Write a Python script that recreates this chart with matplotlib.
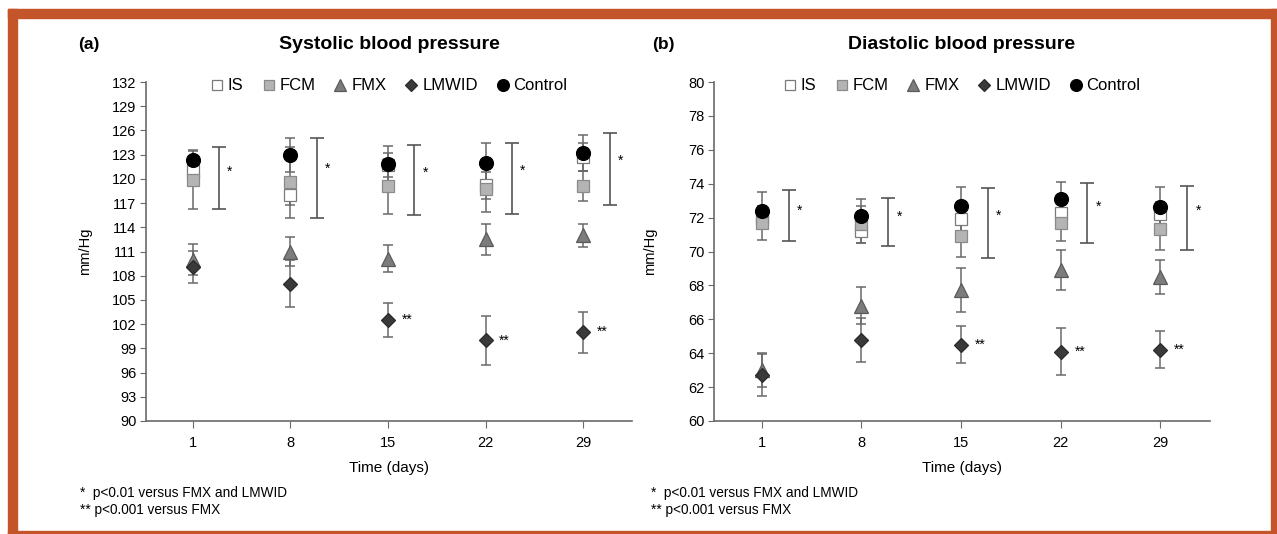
import matplotlib.pyplot as plt
from matplotlib.patches import Rectangle

days = ["1", "8", "15", "22", "29"]

# systolic blood pressure (mean and error)
sys_is = [121.0, 118.0, 121.7, 119.2, 122.7]
sys_is_err = [1.7, 1.2, 1.5, 1.7, 1.7]
sys_fcm = [119.9, 119.6, 119.1, 118.7, 119.1]
sys_fcm_err = [3.6, 4.4, 3.4, 2.8, 1.9]
sys_fmx = [110.0, 111.0, 110.1, 112.5, 113.0]
sys_fmx_err = [1.9, 1.8, 1.7, 1.95, 1.4]
sys_lmwid = [109.1, 107.0, 102.5, 100.0, 101.0]
sys_lmwid_err = [2.0, 2.9, 2.15, 3.05, 2.55]
sys_control = [122.3, 123.0, 121.9, 122.0, 123.2]
sys_control_err = [1.3, 2.1, 2.2, 2.4, 2.2]
sys_bracket_lo = [116.3, 115.2, 115.5, 115.7, 116.8]
sys_bracket_hi = [123.9, 125.1, 124.2, 124.4, 125.7]

# diastolic blood pressure (mean and error)
dia_is = [72.0, 71.2, 71.9, 72.3, 72.2]
dia_is_err = [0.7, 0.7, 0.7, 0.7, 0.7]
dia_fcm = [71.7, 71.6, 70.9, 71.7, 71.3]
dia_fcm_err = [1.0, 1.1, 1.2, 1.1, 1.2]
dia_fmx = [63.0, 66.8, 67.75, 68.9, 68.5]
dia_fmx_err = [1.0, 1.1, 1.3, 1.2, 1.0]
dia_lmwid = [62.7, 64.8, 64.5, 64.1, 64.2]
dia_lmwid_err = [1.25, 1.3, 1.1, 1.4, 1.1]
dia_control = [72.4, 72.1, 72.7, 73.1, 72.6]
dia_control_err = [1.1, 1.0, 1.1, 1.0, 1.2]
dia_bracket_lo = [70.6, 70.3, 69.6, 70.5, 70.1]
dia_bracket_hi = [73.6, 73.15, 73.75, 74.05, 73.85]

FONT = "Liberation Sans"
GRAY = "#6a6a6a"
W, H = 1277, 534

STYLES = {
    "IS": dict(marker="s", ms=8.5, mfc="white", mec="#7a7a7a"),
    "FCM": dict(marker="s", ms=8.5, mfc="#b4b4b4", mec="#8a8a8a"),
    "FMX": dict(marker="^", ms=9.5, mfc="#7c7c7c", mec="#5a5a5a"),
    "LMWID": dict(marker="D", ms=7, mfc="#3a3a3a", mec="#2a2a2a"),
    "Control": dict(marker="o", ms=10, mfc="black", mec="black"),
}


def draw_panel(ax, data, brackets, ylim, yticks, title, ylabel_x):
    x = list(range(len(days)))
    for name, (values, errors) in data.items():
        ax.errorbar(x, values, yerr=errors, fmt="none", ecolor=GRAY,
                    elinewidth=1.1, capsize=3.5, capthick=1.1, zorder=2)
    for name, (values, errors) in data.items():
        ax.plot(x, values, ls="none", mew=0.9, label=name, zorder=3,
                **STYLES[name])

    lo, hi = brackets
    bx = [xi + 0.27 for xi in x]
    mid = [(a + b) / 2 for a, b in zip(lo, hi)]
    half = [(b - a) / 2 for a, b in zip(lo, hi)]
    ax.errorbar(bx, mid, yerr=half, fmt="none", ecolor="#555555",
                elinewidth=1.2, capsize=5, capthick=1.2)
    for xb, m, h in zip(bx, mid, half):
        ax.text(xb + 0.11, m + 0.22 * h, "*", fontsize=10, family=FONT,
                ha="center", va="center")

    lmwid = data["LMWID"][0]
    for xi in x[2:]:
        ax.text(xi + 0.14, lmwid[xi], "**", fontsize=10, family=FONT,
                ha="left", va="center")

    ax.set_xlim(-0.48, 4.5)
    ax.set_ylim(*ylim)
    ax.set_yticks(yticks)
    ax.set_xticks(x)
    ax.set_xticklabels(days)
    for s in ("top", "right"):
        ax.spines[s].set_visible(False)
    for s in ("left", "bottom"):
        ax.spines[s].set_color(GRAY)
        ax.spines[s].set_linewidth(1.2)
    ax.tick_params(axis="y", length=4, color=GRAY, labelsize=10.5,
                   pad=3)
    ax.tick_params(axis="x", length=5, color=GRAY, labelsize=10.5,
                   pad=6)
    for lab in ax.get_xticklabels() + ax.get_yticklabels():
        lab.set_family(FONT)
    ax.set_ylabel("mm/Hg", fontsize=10.5, family=FONT)
    ax.yaxis.set_label_coords(ylabel_x, 0.5)
    ax.set_xlabel("Time (days)", fontsize=11, family=FONT, labelpad=8)
    ax.set_title(title, fontsize=14, fontweight="bold", family=FONT,
                 pad=24)
    ax.legend(loc="upper center", bbox_to_anchor=(0.5, 1.055), ncol=5,
              frameon=False, prop={"family": FONT, "size": 12},
              handlelength=0.8, handletextpad=0.25, columnspacing=1.1,
              markerscale=0.85)


fig = plt.figure(figsize=(W / 100, H / 100), dpi=100)
ax1 = fig.add_axes([146 / W, 1 - 421 / H, 486 / W, 339 / H])
ax2 = fig.add_axes([714 / W, 1 - 421 / H, 496 / W, 339 / H])

sys_data = {
    "IS": (sys_is, sys_is_err),
    "FCM": (sys_fcm, sys_fcm_err),
    "FMX": (sys_fmx, sys_fmx_err),
    "LMWID": (sys_lmwid, sys_lmwid_err),
    "Control": (sys_control, sys_control_err),
}
dia_data = {
    "IS": (dia_is, dia_is_err),
    "FCM": (dia_fcm, dia_fcm_err),
    "FMX": (dia_fmx, dia_fmx_err),
    "LMWID": (dia_lmwid, dia_lmwid_err),
    "Control": (dia_control, dia_control_err),
}

draw_panel(ax1, sys_data, (sys_bracket_lo, sys_bracket_hi), (90, 132),
           range(90, 133, 3), "Systolic blood pressure", -0.111)
draw_panel(ax2, dia_data, (dia_bracket_lo, dia_bracket_hi), (60, 80),
           range(60, 81, 2), "Diastolic blood pressure", -0.115)

fig.text(78 / W, 1 - 44 / H, "(a)", fontsize=12.5, fontweight="bold",
         family=FONT, va="center")
fig.text(652 / W, 1 - 44 / H, "(b)", fontsize=12.5, fontweight="bold",
         family=FONT, va="center")

for xpos in (80 / W, 651 / W):
    fig.text(xpos, 1 - 493 / H, "*  p<0.01 versus FMX and LMWID",
             fontsize=9.8, family=FONT, va="center")
    fig.text(xpos, 1 - 510 / H, "** p<0.001 versus FMX",
             fontsize=9.8, family=FONT, va="center")

# orange frame around the figure
frame = "#c4552b"
for (x0, y0, w, h) in [(8, 9, 1269, 9), (8, 9, 9, 525),
                       (1271, 9, 6, 525), (8, 531, 1269, 3)]:
    fig.patches.append(Rectangle((x0 / W, 1 - (y0 + h) / H), w / W, h / H,
                                 transform=fig.transFigure, color=frame,
                                 zorder=10))

fig.savefig("out.png", dpi=100)
